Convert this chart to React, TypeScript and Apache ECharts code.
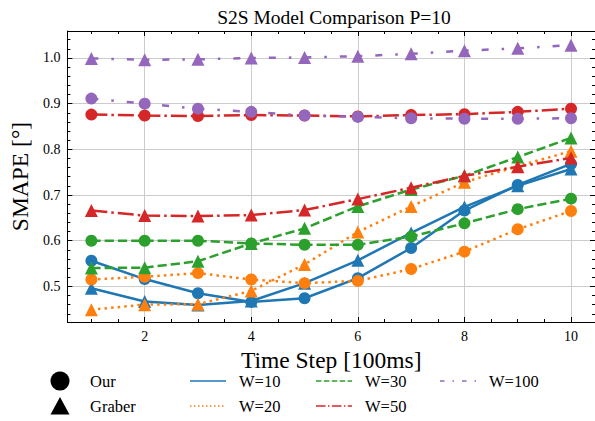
import React, { useEffect, useRef } from "react";
import * as echarts from "echarts";

// ---------- data ----------
const timeSteps = [1, 2, 3, 4, 5, 6, 7, 8, 9, 10];
const windowLabels = ["W=10", "W=20", "W=30", "W=50", "W=100"];
const methodLabels = ["Our", "Graber"];

const ourW10 = [0.556, 0.516, 0.485, 0.466, 0.474, 0.518, 0.584, 0.666, 0.722, 0.768];
const graberW10 = [0.496, 0.467, 0.459, 0.468, 0.507, 0.557, 0.617, 0.674, 0.720, 0.757];
const ourW20 = [0.515, 0.521, 0.529, 0.515, 0.507, 0.512, 0.538, 0.576, 0.625, 0.665];
const graberW20 = [0.449, 0.460, 0.461, 0.490, 0.548, 0.619, 0.675, 0.728, 0.763, 0.796];
const ourW30 = [0.600, 0.600, 0.600, 0.594, 0.591, 0.591, 0.609, 0.638, 0.669, 0.692];
const graberW30 = [0.540, 0.541, 0.555, 0.594, 0.627, 0.675, 0.712, 0.742, 0.783, 0.825];
const ourW50 = [0.876, 0.874, 0.873, 0.875, 0.874, 0.872, 0.875, 0.877, 0.882, 0.889];
const graberW50 = [0.666, 0.655, 0.654, 0.656, 0.667, 0.691, 0.716, 0.742, 0.762, 0.781];
const ourW100 = [0.911, 0.900, 0.889, 0.882, 0.874, 0.871, 0.868, 0.867, 0.867, 0.868];
const graberW100 = [0.999, 0.996, 0.997, 1.000, 1.001, 1.004, 1.009, 1.016, 1.021, 1.028];

const xTickLabels = [2, 4, 6, 8, 10];
const yTickLabels = [0.5, 0.6, 0.7, 0.8, 0.9, 1.0];

const titleText = "S2S Model Comparison P=10";
const xAxisTitle = "Time Step [100ms]";
const yAxisTitle = "SMAPE [°]";

// ---------- styles ----------
const FONT = "Liberation Serif";
const COLORS = ["#1f77b4", "#ff7f0e", "#2ca02c", "#d62728", "#9467bd"];
const LW = 2.5;
const DASHES: any[] = [
  "solid",
  [2.5, 4.1],
  [9.25, 4],
  [16, 4, 2.5, 4],
  [7, 13, 2.5, 13],
];
const LEGEND_DASHES: any[] = [
  null,
  [1.5, 2.5],
  [5.5, 2.4],
  [9.6, 2.4, 1.5, 2.4],
  [4.5, 8, 1.5, 8],
];

const X_MIN = 0.55;
const X_MAX = 10.45;
const Y_MIN = 0.422;
const Y_MAX = 1.059;

export default function App() {
  const ref = useRef<HTMLDivElement>(null);

  useEffect(() => {
    if (!ref.current) return;
    const chart = echarts.init(ref.current, undefined, { renderer: "svg" });

    const ourSets = [ourW10, ourW20, ourW30, ourW50, ourW100];
    const graberSets = [graberW10, graberW20, graberW30, graberW50, graberW100];

    const series: any[] = [];
    windowLabels.forEach((w, i) => {
      [ourSets[i], graberSets[i]].forEach((vals, m) => {
        series.push({
          type: "line",
          name: `${methodLabels[m]} ${w}`,
          xAxisIndex: 0,
          yAxisIndex: 0,
          data: timeSteps.map((t, k) => [t, vals[k]]),
          symbol: m === 0 ? "circle" : "triangle",
          symbolSize: m === 0 ? 12 : 13,
          showSymbol: true,
          lineStyle: { color: COLORS[i], width: LW, type: DASHES[i], cap: "butt" },
          itemStyle: { color: COLORS[i], borderWidth: 0 },
          z: 2 + i * 2 + m,
          emphasis: { disabled: true },
        });
      });
    });

    const axisBlack = { color: "#000", width: 1 };
    const tickX = (v: number) => (xTickLabels.some((t) => Math.abs(t - v) < 1e-6) ? String(v) : "");
    const tickY = (v: number) => {
      const f = yTickLabels.find((t) => Math.abs(t - v) < 1e-6);
      return f !== undefined ? f.toFixed(1) : "";
    };

    const xBase = { type: "value", min: X_MIN, max: X_MAX, splitNumber: 5 };
    const yBase = { type: "value", min: Y_MIN, max: Y_MAX, splitNumber: 6 };

    const xAxis: any[] = [
      {
        ...xBase,
        position: "bottom",
        minInterval: 2,
        maxInterval: 2,
        axisLine: { show: true, onZero: false, lineStyle: axisBlack },
        axisTick: { show: true, inside: true, length: 5, lineStyle: axisBlack },
        axisLabel: {
          show: true,
          fontFamily: FONT,
          fontSize: 14,
          color: "#000",
          margin: 7,
          showMinLabel: false,
          showMaxLabel: false,
          formatter: tickX,
        },
        splitLine: { show: true, lineStyle: { color: "#cccccc", width: 1 } },
        name: xAxisTitle,
        nameLocation: "middle",
        nameGap: 20,
        nameTextStyle: { fontFamily: FONT, fontSize: 23.5, color: "#000" },
      },
      {
        ...xBase,
        position: "bottom",
        minInterval: 0.5,
        maxInterval: 0.5,
        splitNumber: 20,
        axisLine: { show: false, onZero: false },
        axisTick: { show: true, inside: true, length: 3, lineStyle: axisBlack },
        axisLabel: { show: false },
        splitLine: { show: false },
      },
      {
        ...xBase,
        position: "top",
        minInterval: 2,
        maxInterval: 2,
        axisLine: { show: true, onZero: false, lineStyle: axisBlack },
        axisTick: { show: true, inside: true, length: 5, lineStyle: axisBlack },
        axisLabel: { show: false },
        splitLine: { show: false },
      },
      {
        ...xBase,
        position: "top",
        minInterval: 0.5,
        maxInterval: 0.5,
        splitNumber: 20,
        axisLine: { show: false, onZero: false },
        axisTick: { show: true, inside: true, length: 3, lineStyle: axisBlack },
        axisLabel: { show: false },
        splitLine: { show: false },
      },
    ];

    const yAxis: any[] = [
      {
        ...yBase,
        position: "left",
        minInterval: 0.1,
        maxInterval: 0.1,
        axisLine: { show: true, onZero: false, lineStyle: axisBlack },
        axisTick: { show: true, inside: true, length: 5, lineStyle: axisBlack },
        axisLabel: {
          show: true,
          fontFamily: FONT,
          fontSize: 14,
          color: "#000",
          margin: 7,
          showMinLabel: false,
          showMaxLabel: false,
          formatter: tickY,
        },
        splitLine: { show: true, lineStyle: { color: "#cccccc", width: 1 } },
        name: yAxisTitle,
        nameLocation: "middle",
        nameGap: 32,
        nameRotate: 90,
        nameTextStyle: { fontFamily: FONT, fontSize: 23.5, color: "#000" },
      },
      {
        ...yBase,
        position: "left",
        minInterval: 0.02,
        maxInterval: 0.02,
        splitNumber: 32,
        axisLine: { show: false, onZero: false },
        axisTick: { show: true, inside: true, length: 3, lineStyle: axisBlack },
        axisLabel: { show: false },
        splitLine: { show: false },
      },
      {
        ...yBase,
        position: "right",
        minInterval: 0.1,
        maxInterval: 0.1,
        axisLine: { show: true, onZero: false, lineStyle: axisBlack },
        axisTick: { show: true, inside: true, length: 5, lineStyle: axisBlack },
        axisLabel: { show: false },
        splitLine: { show: false },
      },
      {
        ...yBase,
        position: "right",
        minInterval: 0.02,
        maxInterval: 0.02,
        splitNumber: 32,
        axisLine: { show: false, onZero: false },
        axisTick: { show: true, inside: true, length: 3, lineStyle: axisBlack },
        axisLabel: { show: false },
        splitLine: { show: false },
      },
    ];

    // custom legend
    const row1 = 381;
    const row2 = 406;
    const legendFont = { fontFamily: FONT, fontSize: 16.5, fill: "#000" };
    const graphic: any[] = [
      { type: "circle", shape: { cx: 60, cy: row1, r: 9.5 }, style: { fill: "#000" } },
      {
        type: "polygon",
        shape: { points: [[50.5, row2 + 8.5], [69.5, row2 + 8.5], [60, row2 - 9]] },
        style: { fill: "#000" },
      },
      { type: "text", x: 90, y: row1, style: { ...legendFont, text: methodLabels[0], textVerticalAlign: "middle" } },
      { type: "text", x: 90, y: row2, style: { ...legendFont, text: methodLabels[1], textVerticalAlign: "middle" } },
    ];
    const legendPos = [
      { x: 190, y: row1 },
      { x: 190, y: row2 },
      { x: 316, y: row1 },
      { x: 316, y: row2 },
      { x: 440, y: row1 },
    ];
    windowLabels.forEach((w, i) => {
      const p = legendPos[i];
      graphic.push({
        type: "line",
        shape: { x1: p.x, y1: p.y, x2: p.x + 36, y2: p.y },
        style: { stroke: COLORS[i], lineWidth: 1.5, lineDash: LEGEND_DASHES[i] || undefined },
      });
      graphic.push({
        type: "text",
        x: p.x + 49,
        y: p.y,
        style: { ...legendFont, text: w, textVerticalAlign: "middle" },
      });
    });

    chart.setOption({
      animation: false,
      backgroundColor: "#fff",
      title: {
        text: titleText,
        left: 329,
        top: 2,
        textAlign: "center",
        textStyle: { fontFamily: FONT, fontSize: 19.5, fontWeight: "normal", color: "#000" },
      },
      grid: { left: 63, top: 31, width: 532, height: 291, containLabel: false },
      xAxis,
      yAxis,
      series,
      graphic,
    });

    return () => chart.dispose();
  }, []);

  return (
    <div
      ref={ref}
      style={{ position: "fixed", left: 0, top: 0, width: 595, height: 421, background: "#fff" }}
    />
  );
}
